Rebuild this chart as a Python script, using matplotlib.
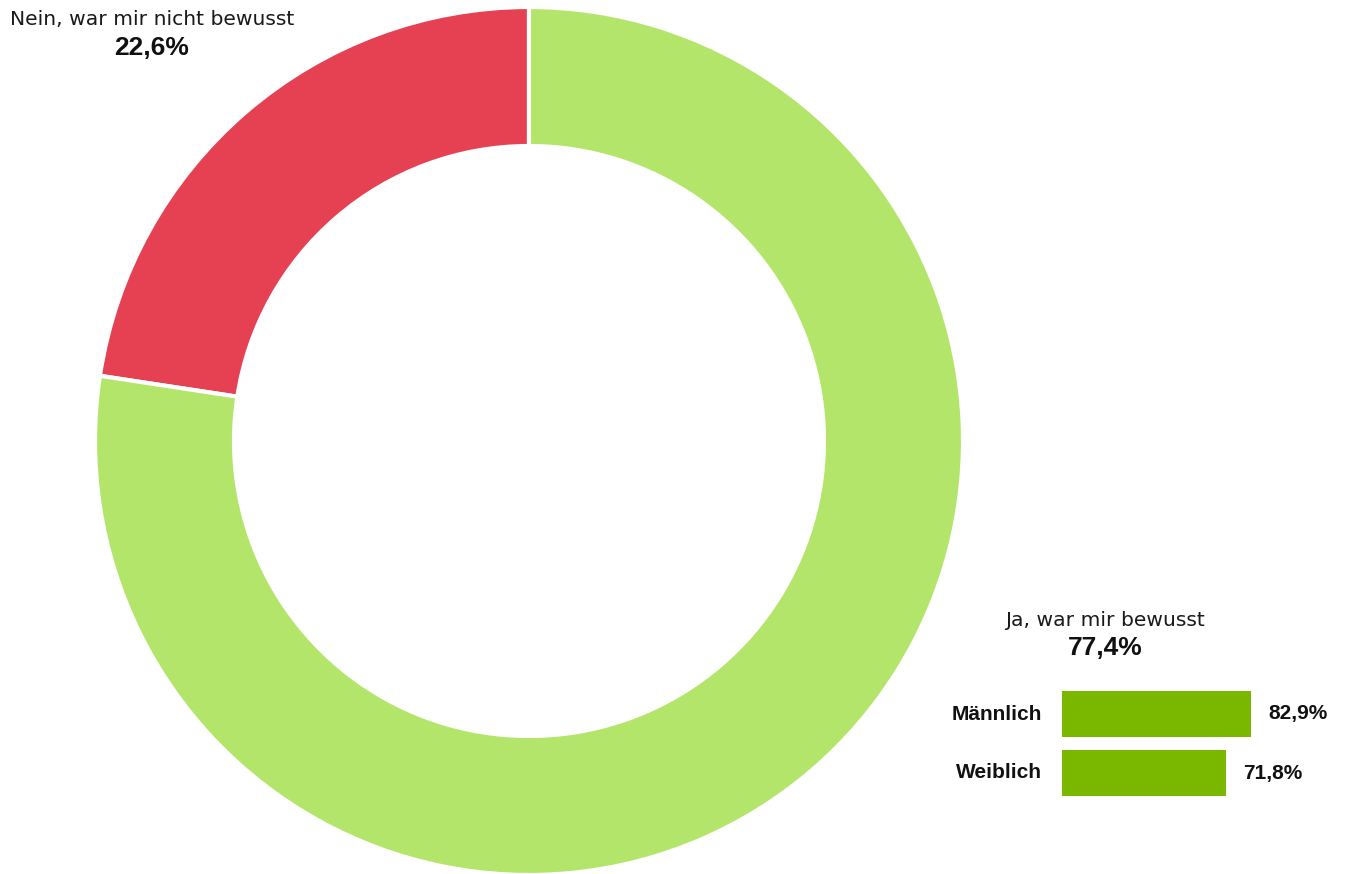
import matplotlib
matplotlib.use("Agg")
import matplotlib.pyplot as plt

plt.rcParams['font.family'] = ['Liberation Sans', 'DejaVu Sans']

# Data
slice_labels = ["Nein, war mir nicht bewusst", "Ja, war mir bewusst"]
slice_values = [22.6, 77.4]
slice_colors = ["#E64152", "#B3E56A"]

bar_categories = ["Männlich", "Weiblich"]
bar_values = [82.9, 71.8]
bar_color = "#7AB800"

W, H = 1345, 874
fig = plt.figure(figsize=(W / 100, H / 100), dpi=100)

# Donut in pixel-like coordinates
ax = fig.add_axes([0, 0, 1, 1])
ax.pie(slice_values, colors=slice_colors, radius=434, center=(529, H - 441),
       startangle=90, counterclock=True,
       wedgeprops=dict(width=139, edgecolor='white', linewidth=3))
ax.set_xlim(0, W)
ax.set_ylim(0, H)
ax.set_aspect('equal')
ax.axis('off')

def fx(x):
    return x / W

def fy(y):
    return 1 - y / H

def pct(v):
    return f"{v:.1f}%".replace('.', ',')

label_font = ['DejaVu Sans']
# Slice labels
fig.text(fx(152), fy(25), slice_labels[0], ha='center', va='baseline', fontsize=14.6,
         family=label_font, color='#1a1a1a')
fig.text(fx(152), fy(55), pct(slice_values[0]), ha='center', va='baseline',
         fontsize=19, fontweight='bold', color='#111111')
fig.text(fx(1105), fy(626), slice_labels[1], ha='center', va='baseline', fontsize=14.6,
         family=label_font, color='#1a1a1a')
fig.text(fx(1105), fy(655), pct(slice_values[1]), ha='center', va='baseline',
         fontsize=19, fontweight='bold', color='#111111')

# Bars
bax = fig.add_axes([1062 / W, (H - 802.5) / H, 228 / W, 118 / H])
ypos = list(range(len(bar_categories)))
bax.barh(ypos, bar_values, height=0.763, color=bar_color)
bax.set_xlim(0, 100)
bax.set_ylim(1.5, -0.5)
bax.axis('off')
for y, cat, v in zip(ypos, bar_categories, bar_values):
    bax.annotate(cat, xy=(0, y), xytext=(-14.6, 0), textcoords='offset points',
                 ha='right', va='center', fontsize=15, fontweight='bold', color='#111111')
    bax.annotate(pct(v), xy=(v, y), xytext=(12.2, 0), textcoords='offset points',
                 ha='left', va='center', fontsize=15, fontweight='bold', color='#111111')

fig.savefig("out.png", dpi=100)
